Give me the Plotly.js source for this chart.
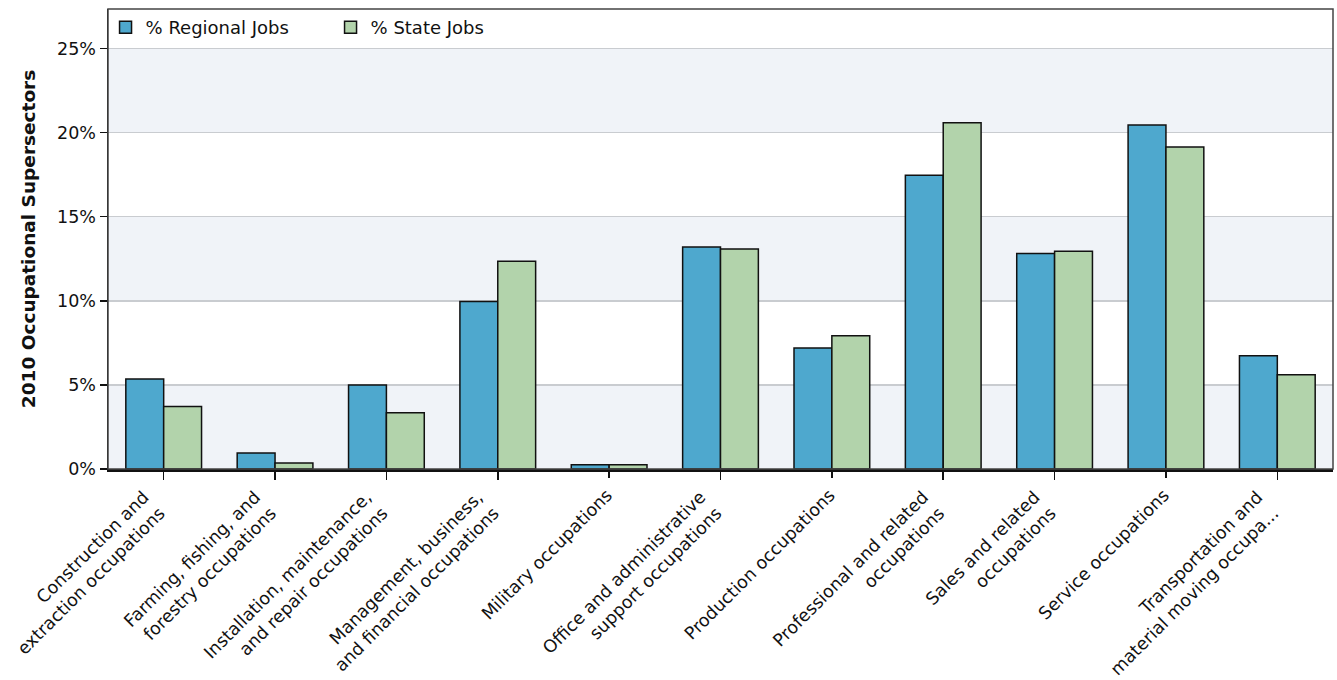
<!DOCTYPE html>
<html>
<head>
<meta charset="utf-8">
<script src="https://cdn.plot.ly/plotly-3.0.1.min.js"></script>
<style>
html,body{margin:0;padding:0;background:#fff;}
#chart{width:1337px;height:680px;}
</style>
</head>
<body>
<div id="chart"></div>
<script>
const categories = [
  "Construction and<br>extraction occupations",
  "Farming, fishing, and<br>forestry occupations",
  "Installation, maintenance,<br>and repair occupations",
  "Management, business,<br>and financial occupations",
  "Military occupations",
  "Office and administrative<br>support occupations",
  "Production occupations",
  "Professional and related<br>occupations",
  "Sales and related<br>occupations",
  "Service occupations",
  "Transportation and<br>material moving occupa..."
];
const regionalJobs = [5.35, 0.95, 5.0, 9.96, 0.25, 13.2, 7.2, 17.46, 12.82, 20.46, 6.74];
const stateJobs = [3.72, 0.36, 3.34, 12.35, 0.25, 13.08, 7.92, 20.58, 12.94, 19.15, 5.61];
const yTickVals = [0, 5, 10, 15, 20, 25];
const yTickText = ["0%", "5%", "10%", "15%", "20%", "25%"];
const bandRanges = [[0, 5], [10, 15], [20, 25]];

const font = "DejaVu Sans, Verdana, sans-serif";

// two-line labels and one-line labels are placed by two overlaid category axes
const multiLine = categories.filter(c => c.indexOf("<br>") >= 0);
const singleLine = categories.filter(c => c.indexOf("<br>") < 0);

const traces = [
  {
    type: "bar", name: "% Regional Jobs", x: categories, y: regionalJobs,
    marker: {color: "#4ea8ce", line: {color: "#111", width: 1.5}},
    hoverinfo: "skip"
  },
  {
    type: "bar", name: "% State Jobs", x: categories, y: stateJobs,
    marker: {color: "#b2d3ab", line: {color: "#111", width: 1.5}},
    hoverinfo: "skip"
  },
  {
    type: "scatter", mode: "none", x: categories, y: regionalJobs,
    xaxis: "x2", yaxis: "y", showlegend: false, hoverinfo: "skip"
  }
];

const shapes = bandRanges.map(r => ({
  type: "rect", xref: "paper", yref: "y", x0: 0, x1: 1, y0: r[0], y1: r[1],
  fillcolor: "#f0f3f8", line: {width: 0}, layer: "below"
}));
shapes.push({
  type: "rect", xref: "paper", yref: "paper", x0: 0, x1: 1, y0: 0, y1: 1,
  line: {color: "#444", width: 1.5}, fillcolor: "rgba(0,0,0,0)", layer: "above"
});

const tickStyle = {
  ticks: "outside", ticklen: 8, tickwidth: 1.5, tickcolor: "#111",
  tickangle: -45, showgrid: false, fixedrange: true,
  tickfont: {family: font, size: 17.5, color: "#111"}
};

const layout = {
  width: 1337, height: 680,
  margin: {l: 108, r: 4, t: 9, b: 211},
  paper_bgcolor: "#fff", plot_bgcolor: "#fff",
  font: {family: font, size: 17, color: "#111"},
  barmode: "group", bargap: 0.32, bargroupgap: 0,
  showlegend: true,
  legend: {
    orientation: "h", x: -0.002, y: 1.0, xanchor: "left", yanchor: "top",
    bgcolor: "rgba(0,0,0,0)", font: {family: font, size: 18, color: "#111"},
    entrywidth: 180, tracegroupgap: 0
  },
  xaxis: Object.assign({
    type: "category", categoryorder: "array", categoryarray: categories,
    tickmode: "array", tickvals: multiLine, ticktext: multiLine,
    showline: true, linecolor: "#111", linewidth: 3,
    ticklabelshift: -20
  }, tickStyle),
  xaxis2: Object.assign({
    type: "category", categoryorder: "array", categoryarray: categories,
    overlaying: "x", matches: "x", anchor: "y", side: "bottom",
    tickmode: "array", tickvals: singleLine, ticktext: singleLine,
    showline: false, ticklabelshift: -2
  }, tickStyle),
  yaxis: {
    range: [0, 27.35], tickvals: yTickVals, ticktext: yTickText,
    showgrid: true, gridcolor: "#c9ccd0", gridwidth: 1.5,
    zeroline: false,
    showline: true, linecolor: "#111", linewidth: 1.5,
    ticks: "outside", ticklen: 7, tickwidth: 1.5, tickcolor: "#111",
    tickfont: {family: font, size: 17.5, color: "#111"},
    title: {text: "<b>2010 Occupational Supersectors</b>", font: {family: font, size: 18.5, color: "#111"}, standoff: 16},
    fixedrange: true
  },
  shapes: shapes
};

Plotly.newPlot("chart", traces, layout, {displayModeBar: false, staticPlot: true});
</script>
</body>
</html>
